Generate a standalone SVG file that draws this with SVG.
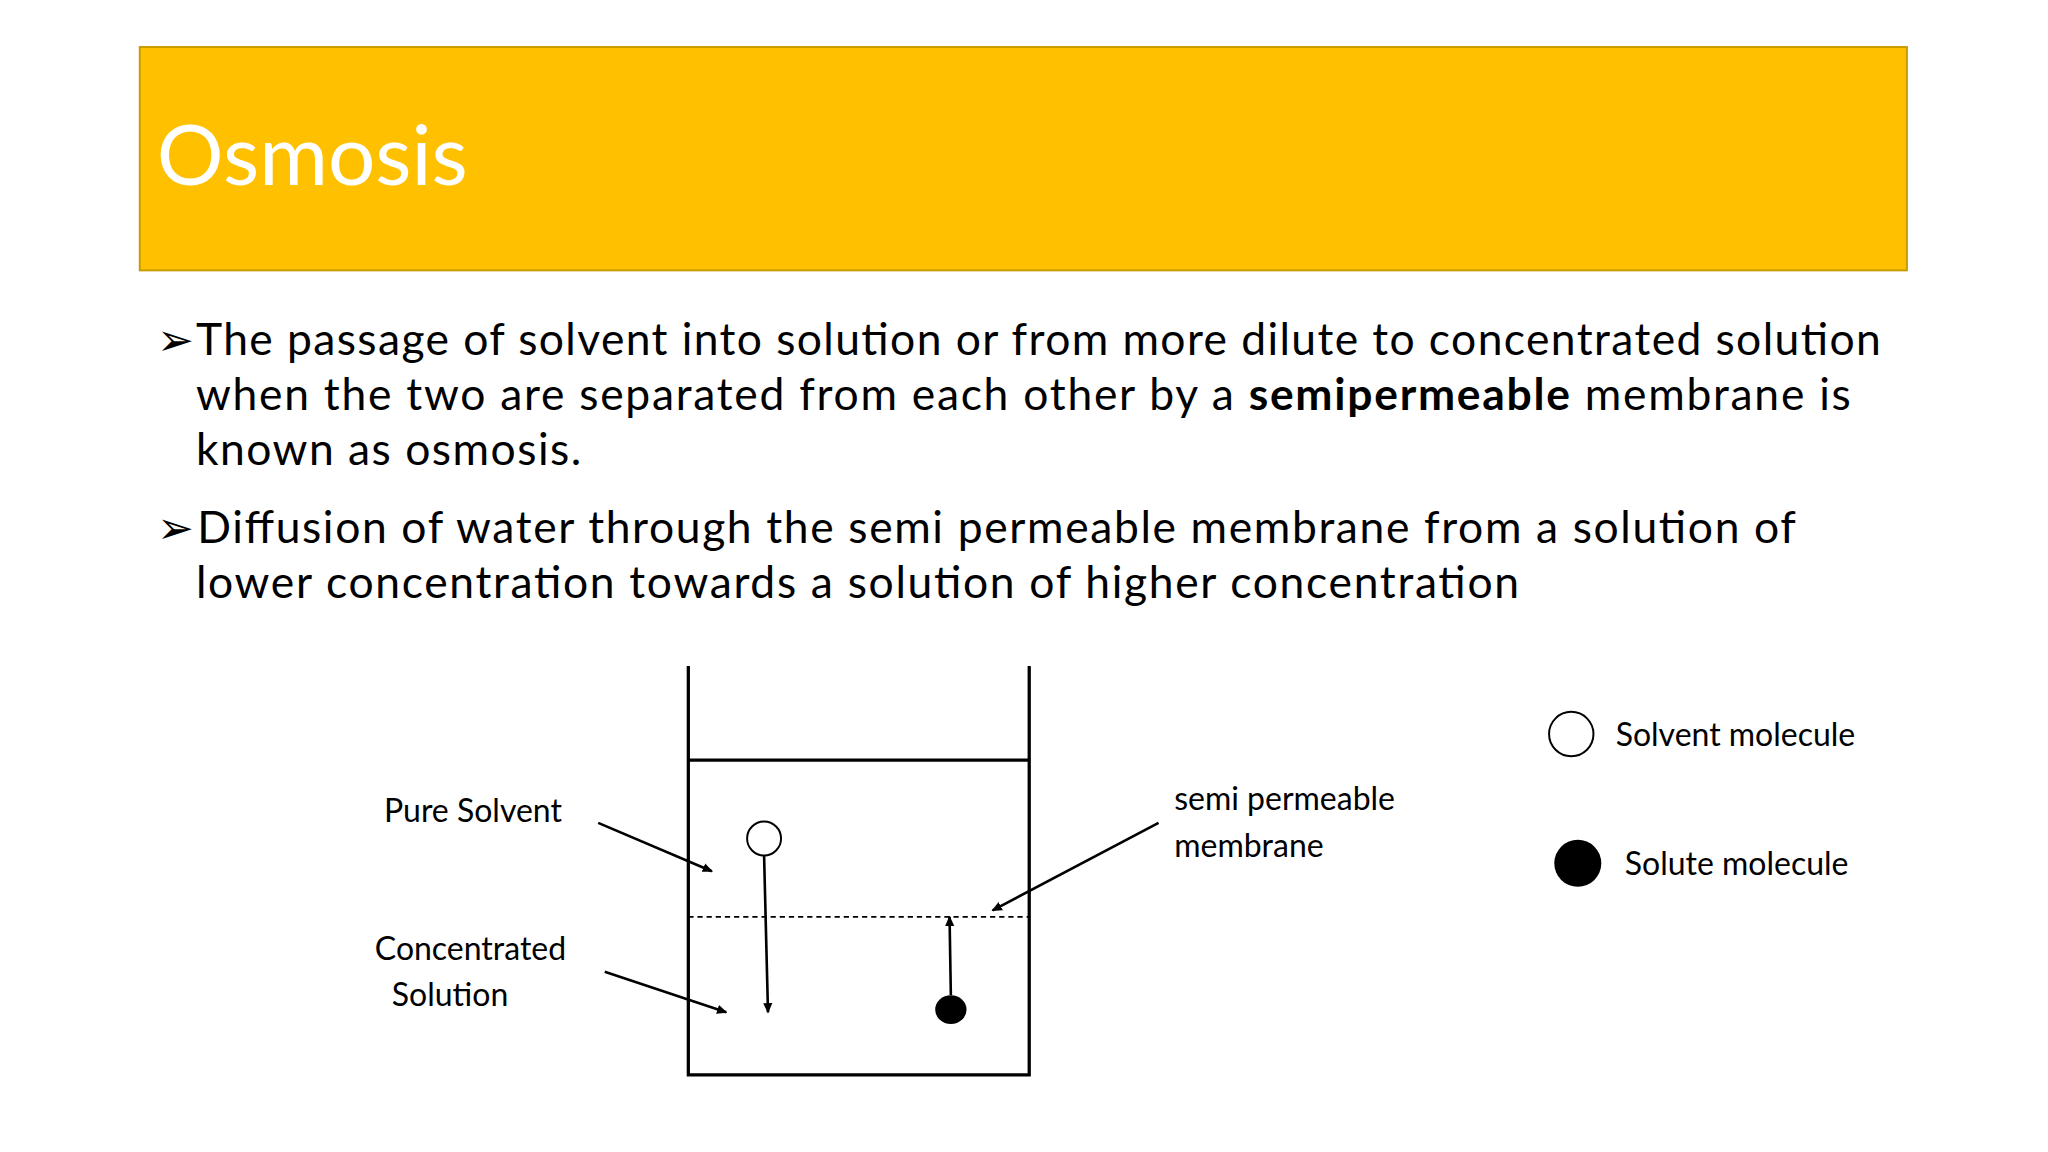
<svg xmlns="http://www.w3.org/2000/svg" width="2048" height="1152" viewBox="0 0 2048 1152">
<style>
.b{font-family:Lato,"Open Sans",sans-serif;font-size:34px;fill:#000}
.s{font-family:Lato,"Open Sans",sans-serif;font-size:24.5px;fill:#000}
.ln{stroke:#000;stroke-width:2;fill:none}
.bk{stroke:#000;stroke-width:2.5;fill:none}
</style>
<defs><marker id="a" markerWidth="8" markerHeight="8" refX="7" refY="4" orient="auto" markerUnits="userSpaceOnUse"><path d="M0,0.5 L8,4 L0,7.5 Z" fill="#000"/></marker></defs>
<rect width="2048" height="1152" fill="#fff"/>
<g transform="scale(1.30612)">
<g id="title"><rect x="107" y="36" width="1353" height="171" fill="#FFC000" stroke="#C89B00" stroke-width="1.5"/>
<text x="120" y="142" font-family="Lato,'Open Sans',sans-serif" font-size="64" fill="#fff">Osmosis</text></g>
<g id="bullets">
<text x="120" y="272" class="b">➢</text>
<text x="150" y="272" class="b" textLength="1290">The passage of solvent into solution or from more dilute to concentrated solution</text>
<text x="150" y="314" class="b" textLength="1267">when the two are separated from each other by a <tspan font-weight="bold">semipermeable</tspan> membrane is</text>
<text x="150" y="356" class="b" textLength="295">known as osmosis.</text>
<text x="120" y="416" class="b">➢</text>
<text x="151" y="416" class="b" textLength="1224">Diffusion of water through the semi permeable membrane from a solution of</text>
<text x="150" y="458" class="b" textLength="1013">lower concentration towards a solution of higher  concentration</text>
</g>
<g id="beaker">
<path class="bk" d="M527,510 V823 H788 V510"/>
<line class="bk" x1="527" y1="582" x2="788" y2="582"/>
<line x1="527" y1="702" x2="788" y2="702" stroke="#000" stroke-width="1.2" stroke-dasharray="4,3"/>
</g>
<g id="solvent-mol"><circle cx="585" cy="642" r="13" fill="#fff" stroke="#000" stroke-width="1.5"/></g>
<g id="solute-mol"><ellipse cx="728" cy="773" rx="12" ry="11" fill="#000"/></g>
<g id="labels">
<text x="294" y="629" class="s">Pure Solvent</text>
<text x="287" y="735" class="s">Concentrated</text>
<text x="300" y="770" class="s">Solution</text>
<text x="899" y="620" class="s">semi permeable</text>
<text x="899" y="656" class="s">membrane</text>
</g>
<g id="legend">
<circle cx="1203" cy="562" r="17" fill="#fff" stroke="#000" stroke-width="1.5"/>
<text x="1237" y="571" class="s">Solvent molecule</text>
<circle cx="1208" cy="661" r="18" fill="#000"/>
<text x="1244" y="670" class="s">Solute molecule</text>
</g>
<g id="connectors">
<line class="ln" x1="585" y1="655" x2="588" y2="775" marker-end="url(#a)"/>
<line class="ln" x1="728" y1="762" x2="727" y2="702" marker-end="url(#a)"/>
<line class="ln" x1="458" y1="630" x2="545" y2="667" marker-end="url(#a)"/>
<line class="ln" x1="463" y1="744" x2="556" y2="775" marker-end="url(#a)"/>
<line class="ln" x1="887" y1="630" x2="760" y2="697" marker-end="url(#a)"/>
</g>
</g>
</svg>
